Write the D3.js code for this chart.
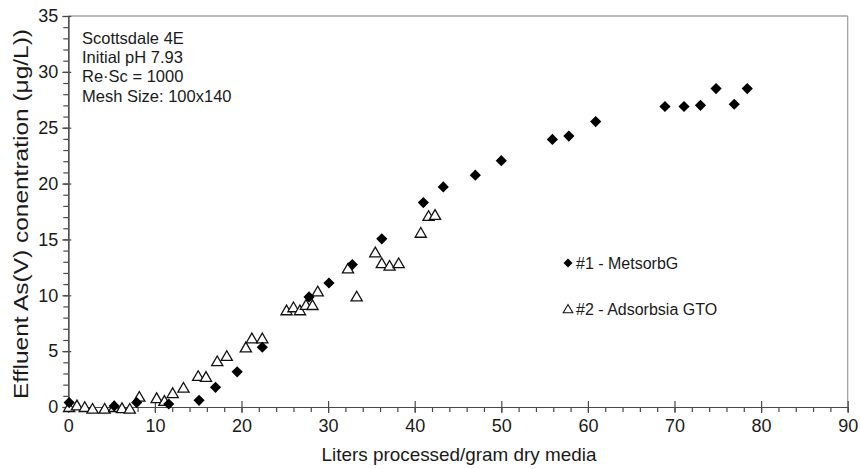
<!DOCTYPE html>
<html>
<head>
<meta charset="utf-8">
<script src="https://cdn.jsdelivr.net/npm/d3@7"></script>
<style>
  html, body { margin: 0; padding: 0; background: #fff; }
  svg text { font-family: "Liberation Sans", Arial, sans-serif; fill: #1a1a1a; }
</style>
</head>
<body>
<svg id="chart" width="860" height="469"></svg>
<script>
// Effluent As(V) breakthrough for two media, Scottsdale 4E water
const metsorbX = [0.1, 5.3, 7.9, 11.6, 15.1, 17.0, 19.5, 22.4, 27.8, 30.1, 32.8, 36.2, 41.0, 43.3, 47.0, 50.0, 55.9, 57.8, 60.9, 68.9, 71.1, 73.0, 74.8, 76.9, 78.4];
const metsorbY = [0.4, 0.1, 0.4, 0.27, 0.6, 1.76, 3.15, 5.35, 9.85, 11.1, 12.75, 15.05, 18.3, 19.7, 20.75, 22.05, 23.95, 24.25, 25.55, 26.9, 26.9, 27.0, 28.5, 27.1, 28.5];

const adsorbsiaX = [0.1, 1.0, 1.9, 2.8, 4.2, 5.3, 6.2, 7.1, 8.2, 10.2, 11.1, 12.05, 13.3, 15.0, 15.9, 17.2, 18.3, 20.5, 21.2, 22.4, 25.2, 26.0, 26.75, 27.45, 28.2, 28.8, 32.3, 33.3, 35.45, 36.2, 37.1, 38.15, 40.7, 41.6, 42.35];
const adsorbsiaY = [0.0, 0.15, 0.0, -0.15, -0.15, 0.0, -0.1, -0.15, 0.92, 0.8, 0.55, 1.25, 1.73, 2.78, 2.7, 4.1, 4.57, 5.34, 6.15, 6.15, 8.66, 8.93, 8.66, 9.15, 9.13, 10.35, 12.4, 9.9, 13.85, 12.87, 12.65, 12.87, 15.6, 17.1, 17.2];

const xTicks = [0, 10, 20, 30, 40, 50, 60, 70, 80, 90];
const yTicks = [0, 5, 10, 15, 20, 25, 30, 35];
const noteLines = ["Scottsdale 4E", "Initial pH 7.93", "Re\u00b7Sc = 1000", "Mesh Size: 100x140"];
const seriesNames = ["#1 - MetsorbG", "#2 - Adsorbsia GTO"];

const svg = d3.select("#chart");
const plot = { left: 68.3, right: 847.7, top: 16, bottom: 407 };

const x = d3.scaleLinear().domain([0, 90]).range([plot.left, plot.right]);
const y = d3.scaleLinear().domain([0, 35]).range([plot.bottom, plot.top]);

const axisColor = "#4a4a4a";

// frame: top and right edges
svg.append("line").attr("x1", plot.left).attr("x2", plot.right).attr("y1", plot.top).attr("y2", plot.top)
  .attr("stroke", "#777").attr("stroke-width", 1.2);
svg.append("line").attr("x1", plot.right).attr("x2", plot.right).attr("y1", plot.top).attr("y2", plot.bottom)
  .attr("stroke", "#999").attr("stroke-width", 1.2);

// x axis: minor ticks every 2, major ticks crossing the axis every 10
const xMinor = d3.axisBottom(x).tickValues(d3.range(0, 91, 2)).tickSize(5).tickFormat("");
const gxm = svg.append("g").attr("transform", `translate(0,${plot.bottom})`).call(xMinor);
const xMajor = d3.axisBottom(x).tickValues(xTicks).tickSizeInner(6).tickSizeOuter(0).tickPadding(5).tickFormat(d3.format("d"));
const gx = svg.append("g").attr("transform", `translate(0,${plot.bottom})`).call(xMajor);
gx.selectAll(".tick line").attr("y1", -6);
gx.selectAll(".tick text").attr("font-size", 18).attr("dy", "0.8em");

// y axis: minor ticks every 1, major ticks every 5
const yMinor = d3.axisLeft(y).tickValues(d3.range(0, 36, 1)).tickSize(5).tickFormat("");
const gym = svg.append("g").attr("transform", `translate(${plot.left},0)`).call(yMinor);
const yMajor = d3.axisLeft(y).tickValues(yTicks).tickSizeInner(6).tickSizeOuter(0).tickPadding(5).tickFormat(d3.format("d"));
const gy = svg.append("g").attr("transform", `translate(${plot.left},0)`).call(yMajor);
gy.selectAll(".tick line").attr("x1", 3);
gy.selectAll(".tick text").attr("font-size", 18).attr("x", -10);

[gxm, gx, gym, gy].forEach(g => {
  g.selectAll("path").attr("stroke", axisColor).attr("stroke-width", 1.2);
  g.selectAll(".tick line").attr("stroke", axisColor).attr("stroke-width", 1.2);
  g.selectAll("text").attr("font-family", null).attr("fill", "#1a1a1a");
});

// axis titles
svg.append("text").attr("x", 459).attr("y", 461).attr("text-anchor", "middle").attr("font-size", 19)
  .attr("textLength", 275).attr("lengthAdjust", "spacingAndGlyphs")
  .text("Liters processed/gram dry media");
svg.append("text").attr("transform", "translate(28,214) rotate(-90)").attr("text-anchor", "middle").attr("font-size", 20)
  .attr("textLength", 370).attr("lengthAdjust", "spacingAndGlyphs")
  .text("Effluent As(V) conentration (\u03bcg/L))");

// experiment notes
svg.append("g").selectAll("text").data(noteLines).join("text")
  .attr("x", 82).attr("y", (d, i) => 44 + i * 19.2).attr("font-size", 16.5).text(d => d);

const triPath = "M0,-5.2 L5.6,4.5 L-5.6,4.5 Z";
const diaPath = "M0,-5.6 L5.6,0 L0,5.6 L-5.6,0 Z";

// series #2 (open triangles)
svg.append("g").selectAll("path").data(d3.zip(adsorbsiaX, adsorbsiaY)).join("path")
  .attr("d", triPath).attr("transform", d => `translate(${x(d[0])},${y(d[1])})`)
  .attr("fill", "#fff").attr("stroke", "#111").attr("stroke-width", 1.3);

// series #1 (filled diamonds)
svg.append("g").selectAll("path").data(d3.zip(metsorbX, metsorbY)).join("path")
  .attr("d", diaPath).attr("transform", d => `translate(${x(d[0])},${y(d[1])})`)
  .attr("fill", "#000");

// legend
const legend = svg.append("g");
legend.append("path").attr("d", "M0,-4.5 L4.5,0 L0,4.5 L-4.5,0 Z").attr("transform", "translate(568,263)").attr("fill", "#000");
legend.append("path").attr("d", "M0,-4.5 L4.8,3.8 L-4.8,3.8 Z").attr("transform", "translate(568,309)")
  .attr("fill", "#fff").attr("stroke", "#111").attr("stroke-width", 1.1);
legend.selectAll("text").data(seriesNames).join("text")
  .attr("x", 576).attr("y", (d, i) => 269 + i * 46).attr("font-size", 16).text(d => d);
</script>
</body>
</html>
